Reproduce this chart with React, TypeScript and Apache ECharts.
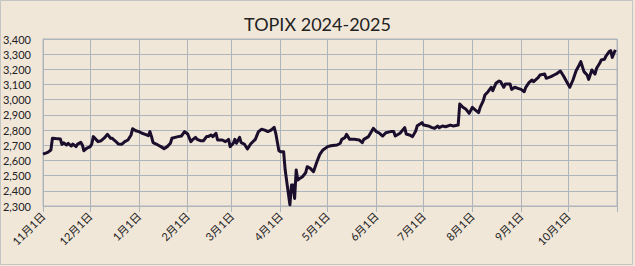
import React, { useEffect, useRef } from "react";
import * as echarts from "echarts";

const titleText = "TOPIX 2024-2025";

const dates: string[] = [
  "2024-11-01", "2024-11-04", "2024-11-06", "2024-11-07", "2024-11-09", "2024-11-12", "2024-11-13", "2024-11-14",
  "2024-11-16", "2024-11-17", "2024-11-19", "2024-11-20", "2024-11-22", "2024-11-23", "2024-11-25", "2024-11-26",
  "2024-11-27", "2024-11-29", "2024-12-01", "2024-12-02", "2024-12-03", "2024-12-04", "2024-12-06", "2024-12-08",
  "2024-12-10", "2024-12-12", "2024-12-14", "2024-12-15", "2024-12-17", "2024-12-19", "2024-12-21", "2024-12-23",
  "2024-12-25", "2024-12-27", "2024-12-28", "2024-12-30", "2025-01-01", "2025-01-03", "2025-01-05", "2025-01-07",
  "2025-01-08", "2025-01-09", "2025-01-10", "2025-01-13", "2025-01-15", "2025-01-17", "2025-01-19", "2025-01-21",
  "2025-01-22", "2025-01-24", "2025-01-26", "2025-01-28", "2025-01-30", "2025-02-01", "2025-02-03", "2025-02-04",
  "2025-02-06", "2025-02-07", "2025-02-09", "2025-02-11", "2025-02-13", "2025-02-14", "2025-02-16", "2025-02-17",
  "2025-02-19", "2025-02-20", "2025-02-23", "2025-02-25", "2025-02-27", "2025-02-28", "2025-03-02", "2025-03-03",
  "2025-03-04", "2025-03-06", "2025-03-07", "2025-03-09", "2025-03-11", "2025-03-13", "2025-03-16", "2025-03-18",
  "2025-03-20", "2025-03-22", "2025-03-24", "2025-03-26", "2025-03-28", "2025-03-29", "2025-03-31", "2025-04-01",
  "2025-04-03", "2025-04-04", "2025-04-06", "2025-04-07", "2025-04-08", "2025-04-09", "2025-04-10", "2025-04-11",
  "2025-04-12", "2025-04-13", "2025-04-15", "2025-04-17", "2025-04-18", "2025-04-20", "2025-04-22", "2025-04-24",
  "2025-04-26", "2025-04-28", "2025-05-01", "2025-05-03", "2025-05-07", "2025-05-09", "2025-05-10", "2025-05-12",
  "2025-05-13", "2025-05-15", "2025-05-18", "2025-05-21", "2025-05-23", "2025-05-24", "2025-05-27", "2025-05-30",
  "2025-06-01", "2025-06-03", "2025-06-05", "2025-06-07", "2025-06-10", "2025-06-12", "2025-06-13", "2025-06-16",
  "2025-06-19", "2025-06-20", "2025-06-22", "2025-06-24", "2025-06-26", "2025-06-27", "2025-06-30", "2025-07-01",
  "2025-07-04", "2025-07-06", "2025-07-08", "2025-07-10", "2025-07-11", "2025-07-13", "2025-07-15", "2025-07-18",
  "2025-07-20", "2025-07-23", "2025-07-24", "2025-07-26", "2025-07-28", "2025-07-30", "2025-08-01", "2025-08-03",
  "2025-08-05", "2025-08-06", "2025-08-08", "2025-08-09", "2025-08-11", "2025-08-13", "2025-08-14", "2025-08-16",
  "2025-08-18", "2025-08-19", "2025-08-21", "2025-08-22", "2025-08-25", "2025-08-26", "2025-08-28", "2025-08-30",
  "2025-09-01", "2025-09-03", "2025-09-04", "2025-09-06", "2025-09-08", "2025-09-09", "2025-09-12", "2025-09-13",
  "2025-09-16", "2025-09-17", "2025-09-20", "2025-09-22", "2025-09-24", "2025-09-26", "2025-09-28", "2025-09-30",
  "2025-10-02", "2025-10-04", "2025-10-06", "2025-10-08", "2025-10-09", "2025-10-10", "2025-10-11", "2025-10-13",
  "2025-10-14", "2025-10-16", "2025-10-18", "2025-10-19", "2025-10-21", "2025-10-22", "2025-10-24", "2025-10-25",
  "2025-10-27", "2025-10-28", "2025-10-29", "2025-10-30", "2025-10-31",
];

const values: number[] = [
  2642, 2653, 2669, 2746, 2744, 2742, 2706, 2717,
  2702, 2713, 2695, 2708, 2691, 2708, 2719, 2702,
  2664, 2682, 2691, 2708, 2757, 2746, 2724, 2730,
  2748, 2772, 2746, 2746, 2728, 2708, 2706, 2724,
  2735, 2768, 2809, 2796, 2790, 2779, 2772, 2763,
  2790, 2757, 2717, 2702, 2691, 2678, 2691, 2713,
  2746, 2752, 2757, 2761, 2790, 2774, 2724, 2735,
  2752, 2739, 2730, 2730, 2757, 2757, 2768, 2757,
  2779, 2735, 2735, 2724, 2739, 2691, 2713, 2739,
  2713, 2752, 2717, 2708, 2675, 2708, 2739, 2790,
  2805, 2800, 2790, 2800, 2818, 2779, 2664, 2658,
  2658, 2537, 2383, 2308, 2438, 2438, 2350, 2537,
  2471, 2480, 2493, 2519, 2559, 2548, 2526, 2587,
  2640, 2669, 2691, 2697, 2702, 2713, 2739, 2750,
  2772, 2739, 2739, 2735, 2717, 2739, 2757, 2811,
  2790, 2779, 2761, 2783, 2790, 2790, 2761, 2779,
  2816, 2774, 2768, 2757, 2794, 2829, 2849, 2833,
  2827, 2818, 2811, 2827, 2816, 2827, 2822, 2833,
  2827, 2833, 2972, 2950, 2937, 2910, 2950, 2932,
  2915, 2950, 2994, 3031, 3053, 3082, 3060, 3108,
  3123, 3119, 3082, 3104, 3104, 3068, 3082, 3075,
  3068, 3053, 3082, 3112, 3130, 3119, 3147, 3163,
  3169, 3141, 3152, 3163, 3174, 3189, 3156, 3119,
  3082, 3130, 3191, 3229, 3251, 3218, 3185, 3163,
  3134, 3196, 3169, 3207, 3240, 3262, 3266, 3288,
  3317, 3323, 3279, 3306, 3328,
];

const xStart = "2024-11-01";
const xEnd = "2025-11-01";
const yMin = 2300;
const yMax = 3400;
const yStep = 100;

const DAY = 86400000;
const textFont = "Lato, 'Noto Sans CJK JP', sans-serif";

function localTime(s: string): number {
  const [y, m, d] = s.split("-").map(Number);
  return new Date(y, m - 1, d).getTime();
}

export default function App() {
  const ref = useRef<HTMLDivElement>(null);
  useEffect(() => {
    if (!ref.current) return;
    const chart = echarts.init(ref.current, undefined, { renderer: "svg" });
    const gridColor = "#AEB4BC";
    const endTs = localTime(xEnd);
    chart.setOption({
      animation: false,
      backgroundColor: "#F1E7D9",
      title: {
        text: titleText,
        left: "center",
        top: 10,
        textStyle: { fontFamily: textFont, fontSize: 18, fontWeight: "normal", color: "#222" },
      },
      graphic: [
        {
          type: "rect",
          shape: { x: 0.5, y: 0.5, width: 632, height: 264 },
          style: { fill: "none", stroke: "#C4C4C4", lineWidth: 1 },
          silent: true,
        },
      ],
      grid: {
        left: 41,
        right: 18,
        top: 39,
        bottom: 60,
        show: true,
        borderColor: gridColor,
        borderWidth: 1,
        backgroundColor: "transparent",
      },
      xAxis: {
        type: "time",
        min: localTime(xStart),
        max: endTs,
        splitNumber: 12,
        minInterval: 28 * DAY,
        maxInterval: 31 * DAY,
        axisLine: { show: true, lineStyle: { color: gridColor } },
        axisTick: { show: true, length: 6, lineStyle: { color: gridColor } },
        splitLine: { show: true, lineStyle: { color: gridColor, width: 1 } },
        axisLabel: {
          rotate: 45,
          margin: 8,
          fontFamily: textFont,
          fontSize: 11,
          color: "#222",
          hideOverlap: false,
          formatter: (v: number) => {
            if (v >= endTs - DAY / 2) return "";
            const d = new Date(v);
            return `${d.getMonth() + 1}月${d.getDate()}日`;
          },
        },
      },
      yAxis: {
        type: "value",
        min: yMin,
        max: yMax,
        interval: yStep,
        axisLine: { show: true, lineStyle: { color: gridColor } },
        axisTick: { show: false },
        splitLine: { show: true, lineStyle: { color: gridColor, width: 1 } },
        axisLabel: {
          margin: 12,
          fontFamily: textFont,
          fontSize: 11,
          color: "#222",
          formatter: (v: number) => v.toLocaleString("en-US"),
        },
      },
      series: [
        {
          type: "line",
          data: dates.map((d, i) => [localTime(d), values[i]]),
          showSymbol: false,
          symbol: "none",
          lineStyle: { color: "#1A0E2C", width: 3, join: "round" },
        },
      ],
    });
    return () => chart.dispose();
  }, []);
  return (
    <div
      ref={ref}
      style={{ position: "fixed", left: 0, top: 0, width: 635, height: 266 }}
    />
  );
}
